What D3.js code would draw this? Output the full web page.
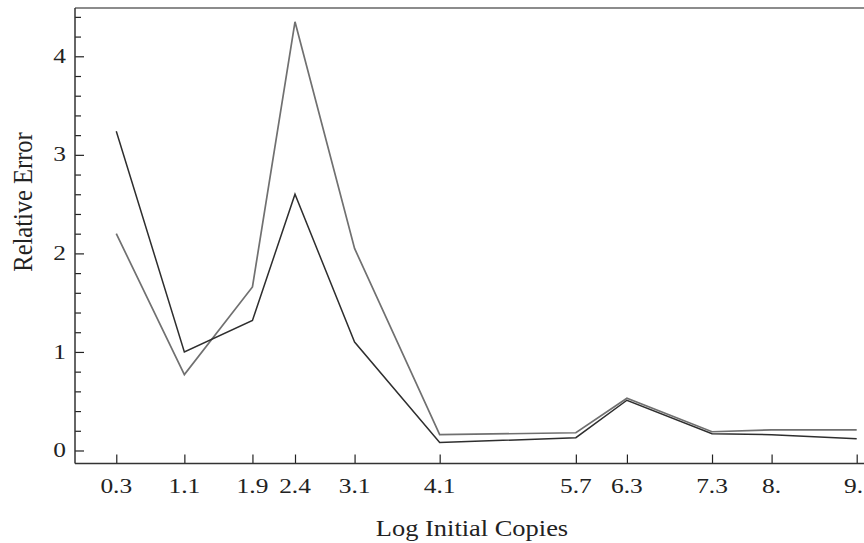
<!DOCTYPE html>
<html>
<head>
<meta charset="utf-8">
<script src="https://cdn.jsdelivr.net/npm/d3@7"></script>
<style>
  html, body { margin: 0; padding: 0; background: #fff; }
  svg { display: block; }
  text { font-family: "Liberation Serif", "DejaVu Serif", serif; fill: #222; }
</style>
</head>
<body>
<svg id="chart" width="864" height="543"></svg>
<script>
// Log initial copies at which relative error was measured
const logCopies = [0.3, 1.1, 1.9, 2.4, 3.1, 4.1, 5.7, 6.3, 7.3, 8.0, 9.0];
const tickLabels = ["0.3", "1.1", "1.9", "2.4", "3.1", "4.1", "5.7", "6.3", "7.3", "8.", "9."];

// Relative error, two estimation methods
const errorDark = [3.24, 1.00, 1.32, 2.60, 1.10, 0.08, 0.13, 0.51, 0.17, 0.16, 0.12];
const errorGray = [2.20, 0.77, 1.66, 4.35, 2.05, 0.16, 0.18, 0.53, 0.19, 0.21, 0.21];

const yMajor = [0, 1, 2, 3, 4];

const svg = d3.select("#chart");
const W = 864, H = 543;
const plotLeft = 75, plotTop = 8, plotBottom = 463.5, plotRight = 856.7;
const stretch = 1.27; // wide-set lettering

const x = d3.scaleLinear().domain([-0.185, 9.0]).range([plotLeft, plotRight]);
const y = d3.scaleLinear().domain([-0.132, 4.49]).range([plotBottom, plotTop]);

// frame: left and bottom axes, top border
svg.append("line").attr("x1", plotLeft).attr("x2", W).attr("y1", plotTop).attr("y2", plotTop)
  .attr("stroke", "#666").attr("stroke-width", 1.6);

// y axis with inward ticks
const yMinor = d3.range(0, 4.41, 0.2).filter(v => Math.abs(v - Math.round(v)) > 1e-6);
const yAxis = d3.axisRight(y).tickValues(yMajor).tickSize(9).tickFormat("");
const gy = svg.append("g").attr("transform", `translate(${plotLeft},0)`).call(yAxis);
gy.select(".domain").remove();
gy.selectAll(".tick line").attr("stroke", "#222").attr("stroke-width", 1.2);
const gyMinor = svg.append("g").attr("transform", `translate(${plotLeft},0)`)
  .call(d3.axisRight(y).tickValues(yMinor).tickSize(6).tickFormat(""));
gyMinor.select(".domain").remove();
gyMinor.selectAll(".tick line").attr("stroke", "#222").attr("stroke-width", 1.2);

svg.append("line").attr("x1", plotLeft).attr("x2", plotLeft).attr("y1", plotTop).attr("y2", plotBottom)
  .attr("stroke", "#333").attr("stroke-width", 1.5);

// y tick labels
svg.append("g").selectAll("text").data(yMajor).join("text")
  .attr("transform", d => `translate(66,${y(d)}) scale(${stretch},1)`)
  .attr("text-anchor", "end").attr("dominant-baseline", "central")
  .attr("font-size", 20)
  .text(d => d);

// x axis with inward ticks
const xAxis = d3.axisTop(x).tickValues(logCopies).tickSize(9).tickFormat("");
const gx = svg.append("g").attr("transform", `translate(0,${plotBottom})`).call(xAxis);
gx.select(".domain").remove();
gx.selectAll(".tick line").attr("stroke", "#222").attr("stroke-width", 1.2);
svg.append("line").attr("x1", plotLeft).attr("x2", W).attr("y1", plotBottom).attr("y2", plotBottom)
  .attr("stroke", "#333").attr("stroke-width", 1.5);

// x tick labels, kept inside the right edge of the canvas
svg.append("g").selectAll("text").data(logCopies).join("text")
  .attr("text-anchor", "middle")
  .attr("font-size", 20)
  .text((d, i) => tickLabels[i])
  .attr("transform", function(d) {
    const half = this.getComputedTextLength() * stretch / 2;
    const cx = Math.min(x(d), W - 1 - half);
    return `translate(${cx},493) scale(${stretch},1)`;
  });

// axis titles
svg.append("text")
  .attr("transform", `translate(472,536) scale(1.15,1)`)
  .attr("text-anchor", "middle").attr("font-size", 23)
  .text("Log Initial Copies");
svg.append("text")
  .attr("transform", `translate(32,202) rotate(-90) scale(1,1.12)`)
  .attr("text-anchor", "middle").attr("font-size", 24.5)
  .text("Relative Error");

// series lines
const line = d3.line().x((d, i) => x(logCopies[i])).y(d => y(d));
svg.append("path").datum(errorGray).attr("d", line)
  .attr("fill", "none").attr("stroke", "#707070").attr("stroke-width", 1.7)
  .attr("stroke-linejoin", "miter");
svg.append("path").datum(errorDark).attr("d", line)
  .attr("fill", "none").attr("stroke", "#2e2e2e").attr("stroke-width", 1.5)
  .attr("stroke-linejoin", "miter");
</script>
</body>
</html>
